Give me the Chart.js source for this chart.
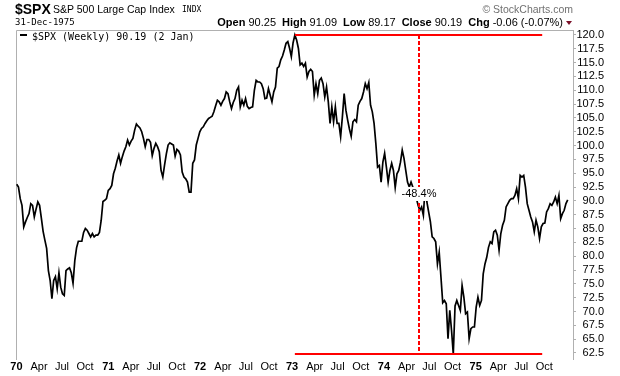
<!DOCTYPE html>
<html><head><meta charset="utf-8">
<script src="https://cdn.jsdelivr.net/npm/chart.js@4.4.1/dist/chart.umd.min.js"></script>
<style>
html,body{margin:0;padding:0;background:#fff;}
#wrap{position:relative;width:620px;height:376px;overflow:hidden;font-family:"Liberation Sans",Arial,sans-serif;color:#000;}
#c{position:absolute;left:0;top:0;}
.t{position:absolute;white-space:nowrap;line-height:1;}
.g{margin-left:6px;}
.mono{font-family:"DejaVu Sans Mono",monospace;}
</style></head><body>
<div id="wrap">
<canvas id="c" width="620" height="376"></canvas>
<div class="t" style="left:15px;top:1.5px;font-weight:bold;font-size:14px;">$SPX</div>
<div class="t" style="left:53px;top:3.6px;font-size:10.5px;">S&amp;P 500 Large Cap Index</div>
<div class="t mono" style="left:182px;top:5.5px;font-size:8px;">INDX</div>
<div class="t" style="right:47px;top:3.6px;font-size:10.5px;color:#707070;">&copy; StockCharts.com</div>
<div class="t mono" style="left:15px;top:17.7px;font-size:9px;">31-Dec-1975</div>
<div class="t" style="right:57px;top:17px;font-size:11px;"><b>Open</b> 90.25<b class="g">High</b> 91.09<b class="g">Low</b> 89.17<b class="g">Close</b> 90.19<b class="g">Chg</b> -0.06 (-0.07%)</div>
<div style="position:absolute;left:566px;top:21px;width:0;height:0;border-left:3.5px solid transparent;border-right:3.5px solid transparent;border-top:4px solid #7a1028;"></div>
<div style="position:absolute;left:20px;top:34px;width:7px;height:2px;background:#000;"></div>
<div class="t mono" style="left:32px;top:31.5px;font-size:10px;">$SPX (Weekly) 90.19 (2 Jan)</div>
</div>
<script>
// ---- DATA ----
// weekly closes of $SPX, week 0 = 2 Jan 1970 ... week 313 = 2 Jan 1976
const spxWeekly = [
 93.0, 92.5, 90.4, 89.2, 85.3, 86.2, 87.0, 87.7, 89.5, 89.2,
 87.1, 88.5, 89.8, 89.2, 86.9, 84.5, 82.9, 81.4, 77.4, 75.6,
 72.3, 75.6, 76.3, 74.1, 77.0, 74.4, 73.2, 72.9, 77.4, 77.7,
 77.9, 77.0, 75.1, 79.2, 81.5, 82.7, 82.7, 82.7, 84.3, 85.0,
 84.7, 84.1, 83.5, 84.1, 83.5, 83.8, 83.8, 84.3, 86.5, 89.9,
 90.1, 90.4, 91.9, 92.2, 92.8, 94.9, 95.9, 97.2, 98.3, 96.8,
 98.0, 99.0, 99.8, 101.0, 100.1, 100.8, 101.3, 102.8, 103.9, 103.5,
 103.2, 102.5, 101.3, 99.8, 101.1, 101.1, 100.6, 98.2, 99.5, 100.4,
 99.8, 98.9, 95.5, 94.3, 96.5, 98.5, 100.1, 100.5, 100.3, 100.1,
 98.1, 99.3, 99.0, 98.3, 95.2, 94.3, 94.0, 93.4, 91.6, 91.6,
 96.8, 97.4, 100.1, 101.3, 102.5, 103.1, 103.4, 104.0, 104.5, 104.9,
 105.1, 105.3, 106.1, 107.2, 108.2, 107.9, 107.3, 108.0, 108.5, 109.7,
 109.4, 107.9, 106.7, 107.8, 108.5, 110.0, 110.6, 107.0, 108.2, 107.3,
 108.5, 107.1, 106.7, 106.9, 107.0, 110.0, 111.8, 111.5, 111.5, 111.2,
 110.3, 108.5, 108.6, 110.3, 109.1, 107.9, 109.7, 110.6, 114.0, 114.3,
 115.5, 116.2, 117.3, 118.5, 118.8, 117.6, 116.1, 118.6, 120.0, 119.1,
 117.6, 114.6, 114.9, 114.3, 114.9, 112.4, 113.4, 113.8, 113.4, 109.1,
 111.2, 109.4, 111.8, 112.2, 111.2, 108.8, 110.6, 107.9, 104.0, 107.0,
 104.3, 107.0, 104.0, 104.0, 101.6, 105.2, 109.4, 106.4, 104.6, 103.0,
 101.7, 104.3, 104.7, 104.3, 107.3, 108.0, 108.5, 109.7, 111.2, 110.3,
 111.4, 107.3, 106.1, 104.0, 100.4, 96.1, 96.4, 93.4, 97.0, 98.6,
 96.1, 93.4, 95.5, 96.8, 95.5, 92.4, 94.9, 95.5, 97.0, 99.2,
 97.7, 95.5, 93.4, 92.5, 93.4, 92.5, 91.5, 90.5, 89.2, 88.3,
 88.9, 87.4, 92.5, 89.8, 88.0, 86.2, 83.5, 83.2, 82.6, 78.6,
 80.7, 76.2, 71.6, 72.0, 71.4, 65.1, 70.2, 66.6, 62.3, 71.0,
 72.0, 71.1, 70.2, 74.7, 72.6, 69.6, 69.9, 65.1, 66.9, 67.2,
 67.2, 70.8, 72.6, 71.1, 72.0, 76.8, 78.6, 79.8, 81.6, 82.6,
 82.3, 84.4, 84.7, 83.8, 81.1, 84.1, 85.6, 86.5, 88.9, 89.5,
 90.1, 90.4, 90.4, 91.0, 92.2, 90.4, 94.6, 94.3, 94.6, 92.5,
 89.5, 88.3, 87.1, 86.2, 84.4, 86.5, 85.3, 83.2, 85.3, 85.9,
 86.0, 88.0, 88.6, 89.5, 89.2, 89.8, 90.7, 89.5, 91.0, 86.8,
 87.7, 88.3, 89.5, 90.19
];
const firstWeek = '1970-01-02';
const xTickLabels = ['70','Apr','Jul','Oct','71','Apr','Jul','Oct','72','Apr','Jul','Oct',
                     '73','Apr','Jul','Oct','74','Apr','Jul','Oct','75','Apr','Jul','Oct'];
const xTickDates = ['1970-01-01','1970-04-01','1970-07-01','1970-10-01','1971-01-01','1971-04-01','1971-07-01','1971-10-01',
                    '1972-01-01','1972-04-01','1972-07-01','1972-10-01','1973-01-01','1973-04-01','1973-07-01','1973-10-01',
                    '1974-01-01','1974-04-01','1974-07-01','1974-10-01','1975-01-01','1975-04-01','1975-07-01','1975-10-01'];
const yTickValues = [62.5,65,67.5,70,72.5,75,77.5,80,82.5,85,87.5,90,92.5,95,97.5,100,102.5,105,107.5,110,112.5,115,117.5,120];
// drawdown annotation (week index / price)
const peakWeek = 158, rangeEndWeek = 298.5, markerWeek = 228.5;
const peakValue = 120.0, troughValue = 62.3, dropLabelValue = 91.25;
const dropLabel = '-48.4%';

// ---- CHART ----
const DAY = 864e5;
const weekOf = d => (Date.parse(d) - Date.parse(firstWeek)) / (7 * DAY);
const xTickWeeks = xTickDates.map(weekOf);
const points = spxWeekly.map((v, i) => ({x: i, y: v}));
const FONT = '"Liberation Sans", Arial, sans-serif';
const AXIS = '#b0b0b0';

const frame = {
  id: 'frame',
  beforeDatasetsDraw(chart) {
    const {ctx, chartArea: a} = chart;
    ctx.save();
    ctx.strokeStyle = AXIS; ctx.lineWidth = 1;
    ctx.beginPath();
    ctx.moveTo(a.left + 0.5, a.bottom + 1); ctx.lineTo(a.left + 0.5, a.top + 0.5); ctx.lineTo(a.right, a.top + 0.5);
    ctx.stroke();
    ctx.restore();
  }
};
const ann = {
  id: 'ann',
  afterDatasetsDraw(chart) {
    const {ctx, scales: {x, y}} = chart;
    ctx.save();
    ctx.strokeStyle = '#ff0000'; ctx.lineWidth = 2;
    const x0 = x.getPixelForValue(peakWeek), x1 = x.getPixelForValue(rangeEndWeek);
    [peakValue, troughValue].forEach(v => {
      const py = Math.round(y.getPixelForValue(v));
      ctx.beginPath(); ctx.moveTo(x0, py); ctx.lineTo(x1, py); ctx.stroke();
    });
    const mx = Math.round(x.getPixelForValue(markerWeek));
    ctx.setLineDash([4, 2]);
    ctx.beginPath(); ctx.moveTo(mx, y.getPixelForValue(peakValue)); ctx.lineTo(mx, y.getPixelForValue(troughValue)); ctx.stroke();
    ctx.setLineDash([]);
    ctx.font = '11px ' + FONT;
    const tw = ctx.measureText(dropLabel).width;
    const ly = y.getPixelForValue(dropLabelValue);
    ctx.fillStyle = '#fff'; ctx.fillRect(mx - tw / 2 - 2, ly - 7, tw + 4, 14);
    ctx.fillStyle = '#000'; ctx.textAlign = 'center'; ctx.textBaseline = 'middle';
    ctx.fillText(dropLabel, mx, ly);
    ctx.restore();
  }
};

new Chart(document.getElementById('c'), {
  type: 'line',
  data: {datasets: [{data: points, borderColor: '#000', borderWidth: 1.7, pointRadius: 0, tension: 0, fill: false}]},
  options: {
    responsive: false, animation: false, events: [],
    layout: {padding: {left: 16, top: 30, right: 16, bottom: 0}},
    plugins: {legend: {display: false}, tooltip: {enabled: false}},
    scales: {
      x: {
        type: 'linear', min: -0.4, max: 316.0,
        grid: {display: false, drawTicks: false},
        border: {display: false},
        afterBuildTicks: s => { s.ticks = xTickWeeks.map(v => ({value: v})); },
        afterFit: s => { s.height = 17; },
        ticks: {
          autoSkip: false, maxRotation: 0, padding: 1.5, color: '#000',
          callback: (v, i) => xTickLabels[i],
          font: c => ({family: FONT, size: 11, weight: (c.index % 4 === 0) ? 'bold' : 'normal'})
        }
      },
      y: {
        position: 'right', min: 61.41, max: 120.9,
        grid: {drawOnChartArea: false, drawTicks: true, tickLength: 3, color: AXIS},
        border: {display: true, color: AXIS},
        afterBuildTicks: s => { s.ticks = yTickValues.map(v => ({value: v})); },
        afterFit: s => { s.width = 31; },
        ticks: {
          autoSkip: false, padding: 0, crossAlign: 'far', color: '#000',
          font: {family: FONT, size: 11},
          callback: v => Number(v).toFixed(1)
        }
      }
    }
  },
  plugins: [frame, ann]
});
</script>
</body></html>
